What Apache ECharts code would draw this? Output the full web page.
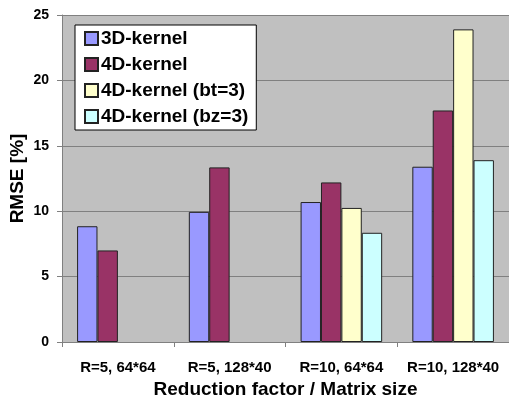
<!DOCTYPE html>
<html>
<head>
<meta charset="utf-8">
<script src="https://cdn.jsdelivr.net/npm/echarts@6/dist/echarts.min.js"></script>
<style>
html,body{margin:0;padding:0;background:#fff;}
#c{width:509px;height:401px;}
</style>
</head>
<body>
<div id="c"></div>
<script>
var categories = ['R=5, 64*64', 'R=5, 128*40', 'R=10, 64*64', 'R=10, 128*40'];
var seriesNames = ['3D-kernel', '4D-kernel', '4D-kernel (bt=3)', '4D-kernel (bz=3)'];
var kernel3D = [8.85, 9.95, 10.7, 13.4];
var kernel4D = [7.0, 13.35, 12.2, 17.7];
var kernel4Dbt3 = [null, null, 10.25, 23.9];
var kernel4Dbz3 = [null, null, 8.35, 13.9];
var colors = ['#9999FF', '#993366', '#FFFFCC', '#CCFFFF'];
var FONT = 'Liberation Sans, Arial, sans-serif';

var dataSets = [kernel3D, kernel4D, kernel4Dbt3, kernel4Dbz3];
var chart = echarts.init(document.getElementById('c'), null, {renderer: 'canvas'});
chart.setOption({
  animation: false,
  backgroundColor: '#ffffff',
  grid: {left: 62, right: 0, top: 15, bottom: 59, show: true, backgroundColor: '#C0C0C0', borderWidth: 0,
         containLabel: false, outerBoundsMode: 'none'},
  legend: {
    orient: 'vertical', left: 75, top: 25,
    backgroundColor: '#ffffff', borderColor: '#000000', borderWidth: 1,
    padding: [4, 8, 4, 9], itemGap: 7, itemWidth: 13, itemHeight: 13,
    icon: 'rect',
    textStyle: {fontFamily: FONT, fontWeight: 'bold', fontSize: 19, color: '#000', padding: [0, 0, 0, -2]},
    data: seriesNames
  },
  xAxis: {
    type: 'category', data: categories,
    name: 'Reduction factor / Matrix size', nameLocation: 'middle', nameGap: 38, nameMoveOverlap: false,
    nameTextStyle: {fontFamily: FONT, fontWeight: 'bold', fontSize: 19, color: '#000'},
    axisLine: {show: true, lineStyle: {color: '#808080', width: 1}},
    axisTick: {show: true, length: 5, lineStyle: {color: '#808080'}},
    axisLabel: {interval: 0, fontFamily: FONT, fontWeight: 'bold', fontSize: 15, color: '#000', margin: 18}
  },
  yAxis: {
    type: 'value', min: 0, max: 25, interval: 5,
    name: 'RMSE [%]', nameLocation: 'middle', nameGap: 35, nameRotate: 90, nameMoveOverlap: false,
    nameTextStyle: {fontFamily: FONT, fontWeight: 'bold', fontSize: 19, color: '#000'},
    axisLine: {show: true, lineStyle: {color: '#808080', width: 1}},
    axisTick: {show: true, length: 5, lineStyle: {color: '#808080'}},
    axisLabel: {fontFamily: FONT, fontWeight: 'bold', fontSize: 14, color: '#000', margin: 13},
    splitLine: {show: true, lineStyle: {color: '#808080', width: 1}}
  },
  series: seriesNames.map(function (n, i) {
    return {
      name: n, type: 'bar', data: dataSets[i],
      barGap: '0%', barCategoryGap: '27%',
      itemStyle: {color: colors[i], borderColor: '#222222', borderWidth: 1}
    };
  })
});
</script>
</body>
</html>
